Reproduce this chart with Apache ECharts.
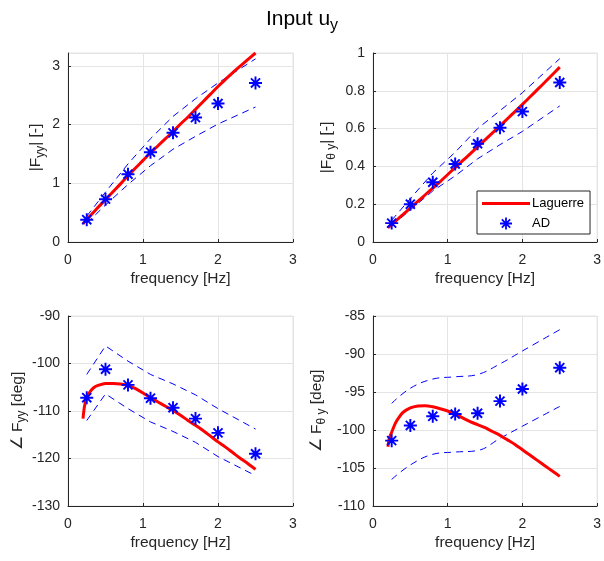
<!DOCTYPE html>
<html>
<head>
<meta charset="utf-8">
<script src="https://cdn.jsdelivr.net/npm/echarts@6/dist/echarts.min.js"></script>
<style>
html,body{margin:0;padding:0;background:#fff;}
#chart{width:604px;height:561px;}
</style>
</head>
<body>
<div id="chart"></div>
<script>
// ---------- data ----------
const freqAD = [0.25, 0.5, 0.8, 1.1, 1.4, 1.7, 2.0, 2.5];
const freqLag = [0.2, 0.22, 0.25, 0.3, 0.35, 0.4, 0.5, 0.6, 0.7, 0.8, 0.9, 1.0, 1.1, 1.2, 1.3, 1.4, 1.5, 1.6, 1.7, 1.8, 1.9, 2.0, 2.1, 2.2, 2.3, 2.4, 2.5];

// |F_yy|
const magYY_AD    = [0.38, 0.73, 1.155, 1.53, 1.86, 2.12, 2.36, 2.71];
const magYY_upper = [0.44, 0.85, 1.33, 1.76, 2.14, 2.44, 2.71, 3.12];
const magYY_lower = [0.32, 0.63, 0.98, 1.30, 1.58, 1.80, 2.01, 2.30];
const magYY_Lag   = [0.31, 0.34, 0.38, 0.45, 0.52, 0.59, 0.72, 0.855, 0.99, 1.13, 1.26, 1.39, 1.52, 1.64, 1.76, 1.88, 2.01, 2.13, 2.26, 2.39, 2.52, 2.65, 2.77, 2.89, 3.0, 3.11, 3.22];

// |F_theta y|
const magTY_AD    = [0.10, 0.20, 0.316, 0.413, 0.52, 0.605, 0.69, 0.844];
const magTY_upper = [0.115, 0.23, 0.365, 0.475, 0.60, 0.695, 0.79, 0.97];
const magTY_lower = [0.085, 0.17, 0.27, 0.35, 0.44, 0.515, 0.585, 0.72];
const magTY_Lag   = [0.075, 0.082, 0.093, 0.11, 0.128, 0.145, 0.18, 0.215, 0.25, 0.285, 0.32, 0.357, 0.394, 0.43, 0.466, 0.503, 0.54, 0.577, 0.614, 0.652, 0.69, 0.728, 0.767, 0.806, 0.845, 0.885, 0.925];

// angle F_yy
const phYY_AD    = [-107.2, -101.2, -104.5, -107.3, -109.3, -111.6, -114.6, -119.0];
const phYY_upper = [-102.3, -96.3, -99.5, -102.3, -104.3, -106.6, -109.5, -113.8];
const phYY_lower = [-112.0, -106.4, -109.5, -112.3, -114.3, -116.6, -119.6, -123.6];
const phYY_Lag   = [-111.6, -109.0, -107.2, -105.8, -105.0, -104.6, -104.2, -104.2, -104.3, -104.6, -105.3, -106.2, -107.2, -108.1, -109.0, -109.9, -110.9, -112.0, -113.0, -114.1, -115.3, -116.5, -117.6, -118.8, -120.0, -121.1, -122.3];

// angle F_theta y
const phTY_AD    = [-101.4, -99.4, -98.2, -97.9, -97.8, -96.2, -94.6, -91.8];
const phTY_upper = [-96.5, -94.5, -93.3, -93.0, -92.7, -91.3, -89.6, -86.8];
const phTY_lower = [-106.5, -104.6, -103.2, -102.9, -102.7, -101.1, -99.5, -96.9];
const phTY_Lag   = [-102.2, -101.0, -100.3, -99.1, -98.3, -97.7, -97.1, -96.85, -96.8, -96.95, -97.2, -97.5, -97.9, -98.4, -98.9, -99.3, -99.7, -100.2, -100.7, -101.3, -101.9, -102.6, -103.3, -104.0, -104.7, -105.4, -106.1];

const xTicks = [0, 1, 2, 3];
const yTicksTL = [0, 1, 2, 3];
const yTicksTR = [0, 0.2, 0.4, 0.6, 0.8, 1];
const yTicksBL = [-130, -120, -110, -100, -90];
const yTicksBR = [-110, -105, -100, -95, -90, -85];

// ---------- styling ----------
const FONT = '"Liberation Sans", Arial, Helvetica, sans-serif';
const AX = '#262626';
const GRIDC = '#e4e4e4';
const starPath = 'path://M8.5,0L11.5,0L11.5,20L8.5,20Z M0,8.5L20,8.5L20,11.5L0,11.5Z M2,4.1L4.1,2L18,15.9L15.9,18Z M15.9,2L18,4.1L4.1,18L2,15.9Z';
const linePath = 'path://M0,0L48,0L48,3L0,3Z';

const pair = (xs, ys) => xs.map((x, i) => [x, ys[i]]);

const grids = [
  {left: 68, top: 53, width: 225, height: 189},
  {left: 373, top: 53, width: 226, height: 189},
  {left: 68, top: 316, width: 225, height: 190},
  {left: 373, top: 316, width: 226, height: 190}
].map(g => Object.assign({show: true, borderColor: GRIDC, borderWidth: 1, backgroundColor: 'transparent'}, g));

function xAx(i) {
  return {
    gridIndex: i, type: 'value', min: xTicks[0], max: xTicks[xTicks.length - 1], interval: 1,
    name: 'frequency [Hz]', nameLocation: 'middle', nameGap: 37,
    nameTextStyle: {fontFamily: FONT, fontSize: 15.5, color: AX, verticalAlign: 'middle'},
    axisLine: {show: true, onZero: false, lineStyle: {color: AX, width: 1}},
    axisTick: {show: true, inside: true, length: 3, lineStyle: {color: AX}},
    axisLabel: {fontFamily: FONT, fontSize: 14, color: AX, margin: 11},
    splitLine: {show: true, lineStyle: {color: GRIDC, width: 1}}
  };
}
const subRich = {
  n: {fontFamily: FONT, fontSize: 15.5, color: AX},
  s: {fontFamily: FONT, fontSize: 12, color: AX, padding: [9, 0, 0, 0]}
};
function yAx(i, ticks, max, name, gap) {
  return {
    gridIndex: i, type: 'value', min: ticks[0], max: max, interval: ticks[1] - ticks[0],
    name: name, nameLocation: 'middle', nameGap: gap,
    nameTextStyle: {fontFamily: FONT, fontSize: 15.5, color: AX, verticalAlign: 'middle', rich: subRich},
    axisLine: {show: true, onZero: false, lineStyle: {color: AX, width: 1}},
    axisTick: {show: true, inside: true, length: 3, lineStyle: {color: AX}},
    axisLabel: {fontFamily: FONT, fontSize: 14, color: AX, margin: 8, showMaxLabel: max === ticks[ticks.length - 1],
      formatter: v => (ticks.some(t => Math.abs(t - v) < 1e-9) ? String(+v.toFixed(2)) : '')},
    splitLine: {show: true, lineStyle: {color: GRIDC, width: 1}}
  };
}

const panels = [
  {ad: magYY_AD, up: magYY_upper, lo: magYY_lower, lag: magYY_Lag, smooth: false},
  {ad: magTY_AD, up: magTY_upper, lo: magTY_lower, lag: magTY_Lag, smooth: false},
  {ad: phYY_AD, up: phYY_upper, lo: phYY_lower, lag: phYY_Lag, smooth: false},
  {ad: phTY_AD, up: phTY_upper, lo: phTY_lower, lag: phTY_Lag, smooth: 0.4}
];

const series = [];
panels.forEach((p, i) => {
  ['up', 'lo'].forEach(k => {
    series.push({
      type: 'line', name: 'bound', xAxisIndex: i, yAxisIndex: i,
      data: pair(freqAD, p[k]), symbol: 'none', smooth: p.smooth,
      lineStyle: {color: '#0000ff', width: 1, type: [7, 5]}, z: 2, silent: true
    });
  });
  series.push({
    type: 'line', name: 'Laguerre', xAxisIndex: i, yAxisIndex: i,
    data: pair(freqLag, p.lag), symbol: 'none', smooth: 0.3,
    lineStyle: {color: '#ff0000', width: 3}, itemStyle: {color: '#ff0000'}, z: 3
  });
  series.push({
    type: 'scatter', name: 'AD', xAxisIndex: i, yAxisIndex: i,
    data: pair(freqAD, p.ad), symbol: starPath, symbolSize: 13,
    itemStyle: {color: '#0000ff', opacity: 1}, z: 4
  });
});

const option = {
  animation: false,
  backgroundColor: '#ffffff',
  textStyle: {fontFamily: FONT},
  title: {
    text: '{a|Input u}{b|y}', left: 'center', top: 0,
    textStyle: {fontWeight: 'normal', rich: {
      a: {fontFamily: FONT, fontSize: 21, fontWeight: 'normal', color: '#000'},
      b: {fontFamily: FONT, fontSize: 16, fontWeight: 'normal', color: '#000', padding: [13, 0, 0, 0]}
    }}
  },
  legend: {
    data: [{name: 'Laguerre', icon: linePath, itemStyle: {color: '#ff0000'}}, {name: 'AD', icon: starPath, itemStyle: {color: '#0000ff', opacity: 1}}],
    orient: 'vertical', left: 477, top: 191,
    padding: [6, 6, 4, 5], itemGap: 7, itemWidth: 48, itemHeight: 12,
    backgroundColor: '#ffffff', borderColor: AX, borderWidth: 1, borderRadius: 0,
    textStyle: {fontFamily: FONT, fontSize: 13, color: '#000', padding: [0, 0, 0, -3]},
    selectedMode: false
  },
  grid: grids,
  xAxis: [xAx(0), xAx(1), xAx(2), xAx(3)],
  yAxis: [
    yAx(0, yTicksTL, 3.22, '{n||F}{s|yy}{n|| [-]}', 32),
    yAx(1, yTicksTR, 1, '{n||F}{s|\u03b8 y}{n|| [-]}', 46),
    yAx(2, yTicksBL, -90, '{n|\u2220 F}{s|yy}{n| [deg]}', 50),
    yAx(3, yTicksBR, -85, '{n|\u2220 F}{s|\u03b8 y}{n| [deg]}', 56)
  ],
  series: series
};

const chart = echarts.init(document.getElementById('chart'), null, {renderer: 'canvas'});
chart.setOption(option);
</script>
</body>
</html>
